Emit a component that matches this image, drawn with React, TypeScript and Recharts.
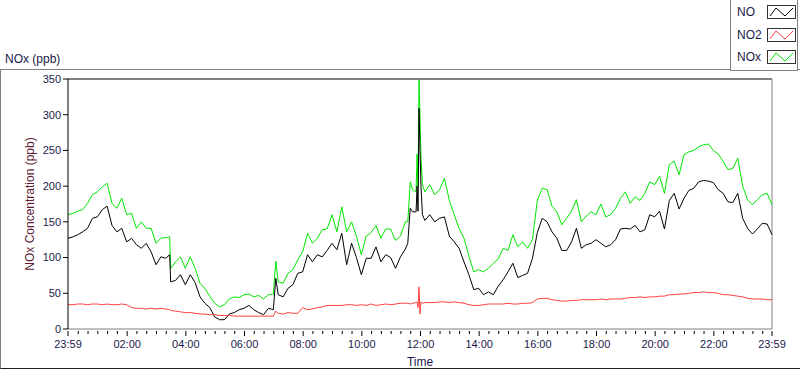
import React from "react";
import { LineChart, Line, XAxis, YAxis, ReferenceLine } from "recharts";

// minutes after 23:59
const minutes = [
  0, 10, 20, 30, 40, 50, 60, 70, 80, 90, 100, 110, 120, 130, 140, 150, 160, 170, 180, 190, 200, 208,
  210, 220, 230, 240, 250, 260, 270, 280, 290, 300, 310, 320, 330, 340, 350, 360, 370, 380, 390, 400, 410, 420, 425,
  430, 440, 450, 460, 470, 480, 490, 500, 510, 520, 530, 540, 550, 560, 570, 580, 590, 600, 610, 620, 630, 640, 650, 660, 670, 680, 690,
  695, 700, 705, 712, 714, 716, 718, 720, 722, 725,
  730, 740, 750, 760, 770, 780, 790, 800, 810, 820, 830, 840, 850, 860, 870, 880, 890, 900, 910, 920, 930, 940, 950, 960,
  970, 980, 990, 1000, 1010, 1020, 1030, 1040, 1050, 1060, 1070, 1080, 1090, 1100, 1110, 1120, 1130, 1140, 1150, 1160,
  1170, 1180, 1190, 1200, 1210, 1220, 1230, 1240, 1250, 1260, 1270, 1280, 1290, 1300, 1310, 1320, 1330, 1340, 1350, 1360,
  1370, 1380, 1390, 1400, 1410, 1420, 1430, 1440,
];

const noxValues = [
  160, 162, 165, 167, 176, 188, 192, 199, 204, 176, 169, 183, 160, 162, 141, 150, 141, 141, 120, 127, 128, 129,
  85, 94, 101, 85, 101, 85, 64, 57, 46, 36, 31, 34, 42, 45, 44, 48, 49, 45, 47, 42, 48, 49, 95,
  66, 64, 78, 83, 97, 108, 134, 120, 127, 139, 140, 160, 136, 171, 136, 150, 130, 104, 130, 135, 145, 127, 140, 140, 124, 130, 150,
  150, 206, 195, 192, 245, 200, 349, 300, 240, 202,
  192, 202, 188, 195, 211, 180, 160, 141, 127, 102, 80, 83, 80, 85, 92, 98, 113, 110, 132, 115, 122, 113, 125, 180,
  197, 195, 172, 164, 146, 155, 165, 181, 150, 158, 164, 160, 175, 157, 160, 169, 183, 192, 176, 185,
  180, 190, 206, 202, 214, 190, 230, 235, 216, 244, 248, 250, 255, 258, 259, 250, 245, 235, 223, 225,
  239, 200, 181, 174, 181, 188, 190, 174,
];

const noValues = [
  127, 129, 132, 136, 141, 155, 157, 167, 172, 145, 136, 141, 122, 127, 118, 113, 120, 108, 90, 101, 99, 104,
  66, 68, 76, 62, 76, 65, 45, 36, 30, 17, 13, 13, 21, 23, 27, 29, 33, 27, 23, 20, 29, 27, 71,
  48, 45, 57, 62, 78, 80, 104, 94, 104, 101, 110, 120, 111, 134, 90, 120, 100, 76, 99, 99, 115, 94, 104, 100, 85, 101, 112,
  120, 169, 164, 164, 200, 165, 309, 250, 200, 160,
  152, 160, 150, 155, 157, 130, 122, 113, 94, 76, 55, 57, 48, 52, 48, 60, 69, 80, 92, 72, 75, 78, 99, 135,
  155, 150, 136, 127, 110, 110, 122, 141, 113, 118, 120, 125, 120, 115, 118, 125, 140, 141, 140, 145,
  136, 139, 160, 157, 165, 140, 180, 190, 168, 183, 194, 197, 206, 208, 207, 205, 195, 190, 178, 177,
  190, 155, 141, 133, 140, 148, 147, 132,
];

const no2Values = [
  34, 34, 35, 35, 34, 35, 35, 34, 35, 34, 34, 35, 34, 30, 29, 29, 28, 29, 28, 29, 28, 27,
  26, 25, 24, 23, 23, 22, 21, 21, 20, 20, 19, 19, 19, 18, 18, 18, 18, 18, 18, 18, 18, 18, 25,
  22, 21, 23, 22, 22, 30, 27, 28, 30, 31, 33, 33, 33, 33, 34, 34, 33, 34, 33, 35, 33, 34, 35, 34, 35, 36, 36,
  36, 35, 36, 37, 38, 30, 59, 21, 38, 36,
  37, 37, 37, 38, 38, 37, 38, 37, 36, 34, 33, 33, 34, 35, 35, 35, 35, 36, 35, 35, 36, 36, 37, 42,
  43, 43, 41, 40, 39, 39, 40, 40, 41, 41, 41, 41, 42, 41, 42, 42, 42, 43, 44, 44,
  45, 44, 45, 45, 46, 46, 48, 48, 49, 49, 50, 51, 51, 52, 51, 51, 50, 48, 48, 47,
  46, 45, 43, 42, 42, 42, 41, 41,
];

const majorTicks = [0, 121, 241, 361, 481, 601, 721, 841, 961, 1081, 1201, 1321, 1440];
const majorLabels = ["23:59", "02:00", "04:00", "06:00", "08:00", "10:00", "12:00", "14:00", "16:00", "18:00", "20:00", "22:00", "23:59"];
const yTicks = [0, 50, 100, 150, 200, 250, 300, 350];

const minorTicks = Array.from({ length: 71 }, (_, i) => 21 + i * 20).filter((t) => !majorTicks.includes(t));
const allTicks = [...majorTicks, ...minorTicks].sort((a, b) => a - b);

const data = minutes.map((t, i) => ({
  t,
  NO: noValues[i],
  NO2: no2Values[i],
  NOx: noxValues[i],
}));

const FONT = "'Liberation Sans', Arial, sans-serif";
const NAVY = "#1a1a4a";

const series = [
  { key: "NO", color: "#000000" },
  { key: "NO2", color: "#ff4040" },
  { key: "NOx", color: "#00e600" },
];

function TimeTick(props: any) {
  const { x, y, payload } = props;
  const idx = majorTicks.indexOf(payload.value);
  const major = idx >= 0;
  return (
    <g>
      <line x1={x} x2={x} y1={y + 2} y2={y + (major ? 7 : 5)} stroke="#000" />
      {major && (
        <text x={x} y={y + 19} textAnchor="middle" fill={NAVY} fontSize={11} fontFamily={FONT}>
          {majorLabels[idx]}
        </text>
      )}
    </g>
  );
}

function Legend() {
  return (
    <div
      style={{
        position: "absolute",
        left: 730,
        top: -1,
        width: 68,
        height: 72,
        border: "1px solid #808080",
        background: "#fff",
        boxSizing: "border-box",
      }}
    >
      {series.map((s, i) => (
        <div key={s.key} style={{ position: "absolute", left: 0, top: 4 + i * 22.5, width: 68, height: 16 }}>
          <span
            style={{
              position: "absolute",
              left: 6,
              top: 1,
              fontFamily: FONT,
              fontSize: 12,
              color: NAVY,
              lineHeight: "14px",
            }}
          >
            {s.key}
          </span>
          <svg width={29} height={14} style={{ position: "absolute", left: 36, top: 1 }}>
            <rect x={0.5} y={0.5} width={28} height={13} fill="#fff" stroke="#333" />
            <polyline points="3,11 9,3 18,11 26,3" fill="none" stroke={s.color} strokeWidth={1} />
          </svg>
        </div>
      ))}
    </div>
  );
}

export default function App() {
  return (
    <div style={{ position: "absolute", left: 0, top: 0, width: 800, height: 369, background: "#fff", overflow: "hidden" }}>
      <div
        style={{
          position: "absolute",
          left: 0,
          top: 69,
          width: 800,
          height: 300,
          borderTop: "1px solid #808080",
          borderLeft: "1px solid #808080",
          borderBottom: "1px solid #202020",
          boxSizing: "border-box",
        }}
      />
      <div style={{ position: "absolute", left: 5, top: 52, fontFamily: FONT, fontSize: 12, color: NAVY }}>NOx (ppb)</div>
      <div style={{ position: "absolute", left: 0, top: 0 }}>
        <LineChart width={800} height={369} data={data} margin={{ top: 79, right: 28, bottom: 0, left: 0 }}>
          <XAxis
            dataKey="t"
            type="number"
            domain={[0, 1440]}
            ticks={allTicks}
            interval={0}
            tickSize={0}
            tickMargin={0}
            tick={<TimeTick />}
            axisLine={{ stroke: "#808080" }}
            height={40}
            label={{ value: "Time", position: "insideBottom", offset: 3, fill: NAVY, fontSize: 12, fontFamily: FONT }}
          />
          <YAxis
            domain={[0, 350]}
            ticks={yTicks}
            width={68}
            tickSize={5}
            interval={0}
            axisLine={{ stroke: "#000" }}
            tickLine={{ stroke: "#000" }}
            tick={{ fill: NAVY, fontSize: 11, fontFamily: FONT }}
            label={{
              value: "NOx Concentration (ppb)",
              angle: -90,
              position: "center",
              dx: -4,
              fill: "#5c1a33",
              fontSize: 12,
              fontFamily: FONT,
            }}
          />
          <ReferenceLine y={350} stroke="#000" />
          <ReferenceLine x={1440} stroke="#808080" />
          <Line type="linear" dataKey="NOx" stroke="#00e600" strokeWidth={1} dot={false} isAnimationActive={false} />
          <Line type="linear" dataKey="NO" stroke="#000000" strokeWidth={1} dot={false} isAnimationActive={false} />
          <Line type="linear" dataKey="NO2" stroke="#ff4040" strokeWidth={1} dot={false} isAnimationActive={false} />
        </LineChart>
      </div>
      <Legend />
    </div>
  );
}
